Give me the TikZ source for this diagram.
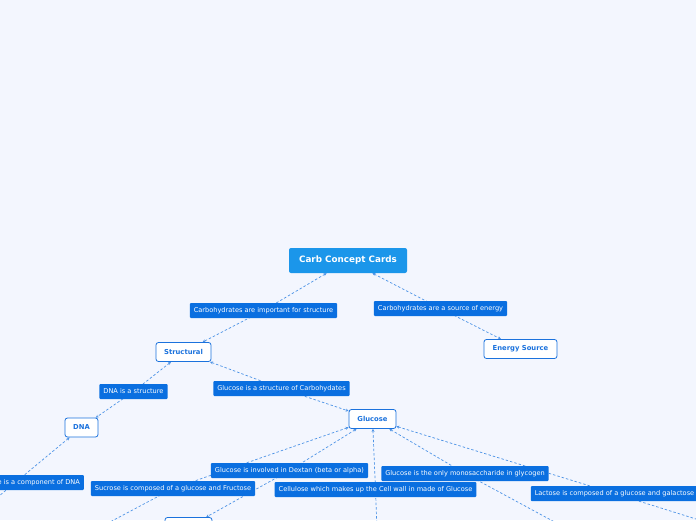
\documentclass[tikz,border=0pt]{standalone}
\usepackage{fontspec}
\setmainfont{DejaVu Sans}
\usetikzlibrary{arrows.meta, positioning, backgrounds}
\definecolor{canvasBg}{HTML}{F3F6FE}
\definecolor{rootBlue}{HTML}{1B96EA}
\definecolor{labelBlue}{HTML}{0A6FE0}
\definecolor{topicBlue}{HTML}{1B72DD}
\definecolor{linkBlue}{HTML}{4D93E6}

\begin{document}
\begin{tikzpicture}[
		x=1pt, y=-1pt,
		% Styles
		rootBox/.style={fill=rootBlue, text=white, rounded corners=2pt, minimum width=118pt, minimum height=25pt, font=\fontsize{8.8}{10}\selectfont\bfseries},
		topicBox/.style={draw=topicBlue, fill=white, text=topicBlue, line width=0.8pt, rounded corners=2.5pt, minimum height=19pt, inner xsep=0pt, font=\fontsize{6.8}{8}\selectfont\bfseries},
		linkLabel/.style={fill=labelBlue, text=white, rounded corners=1pt, minimum height=15pt, inner xsep=4pt, inner ysep=0pt, font=\fontsize{6.6}{8}\selectfont},
		linkArrow/.style={{Stealth[length=3pt,width=3pt]}-{Stealth[length=3pt,width=3pt]}, draw=linkBlue, line width=0.7pt, dash pattern=on 2.5pt off 2pt}
		]
		
		\useasboundingbox (0, 0) rectangle (696, 520);
		\begin{scope}[on background layer]
			\fill[canvasBg] (0, 0) rectangle (696, 520);
		\end{scope}
		
		% =========================================================
		% 1. TOPICS
		% =========================================================
		\node[rootBox] (Root) at (348, 260.5) {Carb Concept Cards};
		
		\node[topicBox, minimum width=55pt] (Structural) at (183.5, 352) {Structural};
		\node[topicBox, minimum width=73pt] (EnergySource) at (520.5, 349) {Energy Source};
		\node[topicBox, minimum width=33pt] (DNA) at (81.5, 427.5) {DNA};
		\node[topicBox, minimum width=47pt] (Glucose) at (372.5, 419) {Glucose};
		\node[topicBox, minimum width=47pt] (Dextran) at (188.5, 527) {};
		
		% loose ends below and beside the page
		\coordinate (DNAEnd) at (-25, 516);
		\coordinate (SucroseEnd) at (95, 530);
		\coordinate (CelluloseEnd) at (377, 530);
		\coordinate (GlycogenEnd) at (562, 526);
		\coordinate (LactoseEnd) at (712, 524);
		
		% =========================================================
		% 2. LINK LABELS
		% =========================================================
		\node[linkLabel] (LblStructure) at (263.5, 310.5) {Carbohydrates are important for structure};
		\node[linkLabel] (LblEnergy) at (440.5, 308.5) {Carbohydrates are a source of energy};
		\node[linkLabel] (LblDNA) at (133.5, 391.5) {DNA is a structure};
		\node[linkLabel] (LblGlucose) at (281.5, 388.5) {Glucose is a structure of Carbohydates};
		\node[linkLabel, anchor=east] (LblComponent) at (84, 482.5) {e is a component of DNA};
		\node[linkLabel] (LblDextran) at (289.5, 470.5) {Glucose is involved in Dextan (beta or alpha)};
		\node[linkLabel] (LblSucrose) at (173, 488.5) {Sucrose is composed of a glucose and Fructose};
		\node[linkLabel] (LblCellulose) at (375.5, 489.5) {Cellulose which makes up the Cell wall in made of Glucose};
		\node[linkLabel] (LblGlycogen) at (465, 473.5) {Glucose is the only monosaccharide in glycogen};
		\node[linkLabel] (LblLactose) at (614.5, 493.5) {Lactose is composed of a glucose and galactose};
		
		% =========================================================
		% 3. CONNECTORS (under the labels)
		% =========================================================
		\begin{scope}[on background layer]
			\draw[linkArrow] (Root) -- (LblStructure.center) -- (Structural);
			\draw[linkArrow] (Root) -- (LblEnergy.center) -- (EnergySource);
			\draw[linkArrow] (Structural) -- (LblDNA.center) -- (DNA);
			\draw[linkArrow] (Structural) -- (LblGlucose.center) -- (Glucose);
			\draw[linkArrow] (DNA) -- (DNAEnd);
			\draw[linkArrow] (Glucose) -- (LblSucrose.center) -- (SucroseEnd);
			\draw[linkArrow] (Glucose) -- (LblDextran.center) -- (Dextran);
			\draw[linkArrow] (Glucose) -- (LblCellulose.center) -- (CelluloseEnd);
			\draw[linkArrow] (Glucose) -- (LblGlycogen.center) -- (GlycogenEnd);
			\draw[linkArrow] (Glucose) -- (LblLactose.center) -- (LactoseEnd);
		\end{scope}
		
	\end{tikzpicture}
\end{document}
